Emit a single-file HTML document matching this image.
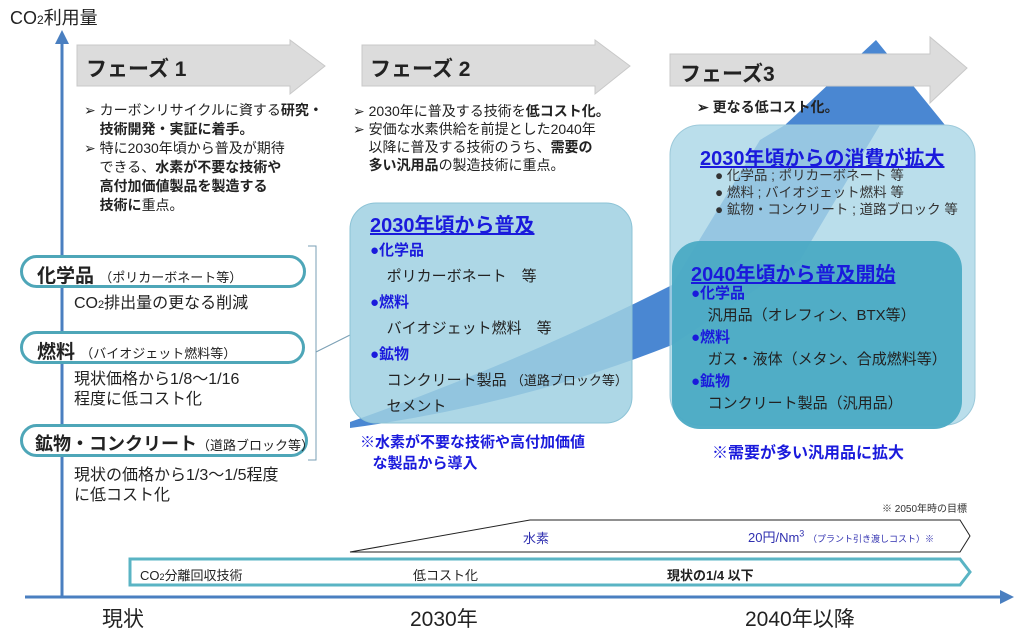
<!DOCTYPE html>
<html><head><meta charset="utf-8"><style>
body{margin:0;width:1024px;height:632px;position:relative;background:#fff;overflow:hidden;font-family:"Liberation Sans","Noto Sans CJK JP",sans-serif;color:#222}
.a{position:absolute;white-space:nowrap}
.ph{font-size:21px;font-weight:bold;color:#222}
.bl{font-size:14px;line-height:19px}
.bl b{font-weight:bold}
.pill{position:absolute;white-space:nowrap;border:3px solid #4ea6b8;border-radius:18px;box-sizing:border-box;height:33px;font-size:19px;font-weight:bold;padding:3px 0 0 14px;background:#fff}
.pill span{font-size:13px;font-weight:normal}
.sub{font-size:16px;line-height:20px}
.blue{color:#1a1adc;font-weight:bold}
.u{text-decoration:underline}
</style></head><body>
<svg class="a" style="left:0;top:0" width="1024" height="632">
  <polygon points="77,45 290,45 290,40 325,66 290,94 290,86 77,86" fill="#dcdcdc" stroke="#c8c8c8"/>
  <polygon points="362,45 595,45 595,40 630,66 595,94 595,86 362,86" fill="#dcdcdc" stroke="#c8c8c8"/>
  <path d="M350,422 Q520,362 672,285 L760,140 L785,125 L876,40 L945,125 L880,125 L800,260 L672,345 Q520,405 350,428 Z" fill="#4a87d2"/>
  <polygon points="670,54 930,54 930,37 967,68 930,103 930,86 670,86" fill="#dcdcdc" stroke="#c8c8c8"/>
  <line x1="62" y1="40" x2="62" y2="597" stroke="#4a7fc0" stroke-width="3"/>
  <polygon points="55,44 62,30 69,44" fill="#4a7fc0"/>
  <line x1="25" y1="597" x2="1002" y2="597" stroke="#4a7fc0" stroke-width="3"/>
  <polygon points="1000,590 1014,597 1000,604" fill="#4a7fc0"/>
  <polyline points="308,246 316,246 316,460 308,460" fill="none" stroke="#7a9fb5" stroke-width="1"/>
  <line x1="316" y1="352" x2="350" y2="335" stroke="#7a9fb5" stroke-width="1"/>
  <rect x="350" y="203" width="282" height="220" rx="26" fill="#9fd0e2" fill-opacity="0.85" stroke="#8cc3d6"/>
  <rect x="670" y="125" width="305" height="300" rx="30" fill="#a9d6e6" fill-opacity="0.8" stroke="#9cc9da"/>
  <rect x="672" y="241" width="290" height="188" rx="28" fill="#4aaac4" fill-opacity="0.95"/>
  <polygon points="350,552 530,520 960,520 970,536 960,552" fill="#fff" stroke="#222" stroke-width="1"/>
  <polygon points="130,559 960,559 970,572 960,585 130,585" fill="#fff" stroke="#5ab4c4" stroke-width="3"/>
</svg>
<div class="a" style="left:10px;top:4px;font-size:18px">CO<span style="font-size:12px">2</span>利用量</div>
<div class="a ph" style="left:86px;top:53px">フェーズ 1</div>
<div class="a ph" style="left:370px;top:53px">フェーズ 2</div>
<div class="a ph" style="left:680px;top:58px">フェーズ3</div>
<div class="a bl" style="left:84px;top:101px">➢ カーボンリサイクルに資する<b>研究・</b><br>&nbsp;&nbsp;&nbsp;&nbsp;<b>技術開発・実証に着手。</b><br>➢ 特に2030年頃から普及が期待<br>&nbsp;&nbsp;&nbsp;&nbsp;できる、<b>水素が不要な技術や</b><br>&nbsp;&nbsp;&nbsp;&nbsp;<b>高付加価値製品を製造する</b><br>&nbsp;&nbsp;&nbsp;&nbsp;<b>技術に</b>重点。</div>
<div class="a bl" style="left:353px;top:102px;line-height:18px">➢ 2030年に普及する技術を<b>低コスト化。</b><br>➢ 安価な水素供給を前提とした2040年<br>&nbsp;&nbsp;&nbsp;&nbsp;以降に普及する技術のうち、<b>需要の</b><br>&nbsp;&nbsp;&nbsp;&nbsp;<b>多い汎用品</b>の製造技術に重点。</div>
<div class="a bl" style="left:697px;top:98px"><b>➢ 更なる低コスト化。</b></div>

<div class="pill" style="left:20px;top:255px;width:286px">化学品 <span>（ポリカーボネート等）</span></div>
<div class="a sub" style="left:74px;top:294px">CO<span style="font-size:11px">2</span>排出量の更なる削減</div>
<div class="pill" style="left:20px;top:331px;width:285px">燃料 <span>（バイオジェット燃料等）</span></div>
<div class="a sub" style="left:74px;top:370px">現状価格から1/8～1/16<br>程度に低コスト化</div>
<div class="pill" style="left:20px;top:424px;width:288px;font-size:18px;padding-left:12px">鉱物・コンクリート<span>（道路ブロック等）</span></div>
<div class="a sub" style="left:74px;top:466px">現状の価格から1/3～1/5程度<br>に低コスト化</div>

<div class="a blue u" style="left:370px;top:209px;font-size:20px">2030年頃から普及</div>
<div class="a" style="left:370px;top:238px;font-size:15px;line-height:26px"><span class="blue">●化学品</span><br>&nbsp;&nbsp;&nbsp;&nbsp;ポリカーボネート　等<br><span class="blue">●燃料</span><br>&nbsp;&nbsp;&nbsp;&nbsp;バイオジェット燃料　等<br><span class="blue">●鉱物</span><br>&nbsp;&nbsp;&nbsp;&nbsp;コンクリート製品 <span style="font-size:13px">（道路ブロック等）</span><br>&nbsp;&nbsp;&nbsp;&nbsp;セメント</div>
<div class="a blue" style="left:360px;top:432px;font-size:15px;line-height:21px">※水素が不要な技術や高付加価値<br>&nbsp;&nbsp;&nbsp;な製品から導入</div>

<div class="a blue u" style="left:700px;top:142px;font-size:20px">2030年頃からの消費が拡大</div>
<div class="a" style="left:715px;top:167px;font-size:13.5px;line-height:17px;color:#333">● 化学品 ; ポリカーボネート 等<br>● 燃料 ; バイオジェット燃料 等<br>● 鉱物・コンクリート ; 道路ブロック 等</div>
<div class="a blue u" style="left:691px;top:258px;font-size:20px">2040年頃から普及開始</div>
<div class="a" style="left:691px;top:283px;font-size:15px;line-height:22px"><span class="blue">●化学品</span><br>&nbsp;&nbsp;&nbsp;&nbsp;汎用品（オレフィン、BTX等）<br><span class="blue">●燃料</span><br>&nbsp;&nbsp;&nbsp;&nbsp;ガス・液体（メタン、合成燃料等）<br><span class="blue">●鉱物</span><br>&nbsp;&nbsp;&nbsp;&nbsp;コンクリート製品（汎用品）</div>
<div class="a blue" style="left:712px;top:439px;font-size:16px">※需要が多い汎用品に拡大</div>

<div class="a" style="left:882px;top:500px;font-size:10px;color:#333">※ 2050年時の目標</div>
<div class="a" style="left:523px;top:528px;font-size:13px;color:#3030b0">水素</div>
<div class="a" style="left:748px;top:527px;font-size:13px;color:#3030b0">20円/Nm<sup style="font-size:9px">3</sup> <span style="font-size:9px">（プラント引き渡しコスト）※</span></div>
<div class="a" style="left:140px;top:565px;font-size:13px">CO<span style="font-size:9px">2</span>分離回収技術</div>
<div class="a" style="left:413px;top:565px;font-size:13px">低コスト化</div>
<div class="a" style="left:667px;top:565px;font-size:13px;font-weight:bold">現状の1/4 以下</div>
<div class="a" style="left:102px;top:603px;font-size:21px">現状</div>
<div class="a" style="left:410px;top:603px;font-size:21px">2030年</div>
<div class="a" style="left:745px;top:603px;font-size:21px">2040年以降</div>
</body></html>
